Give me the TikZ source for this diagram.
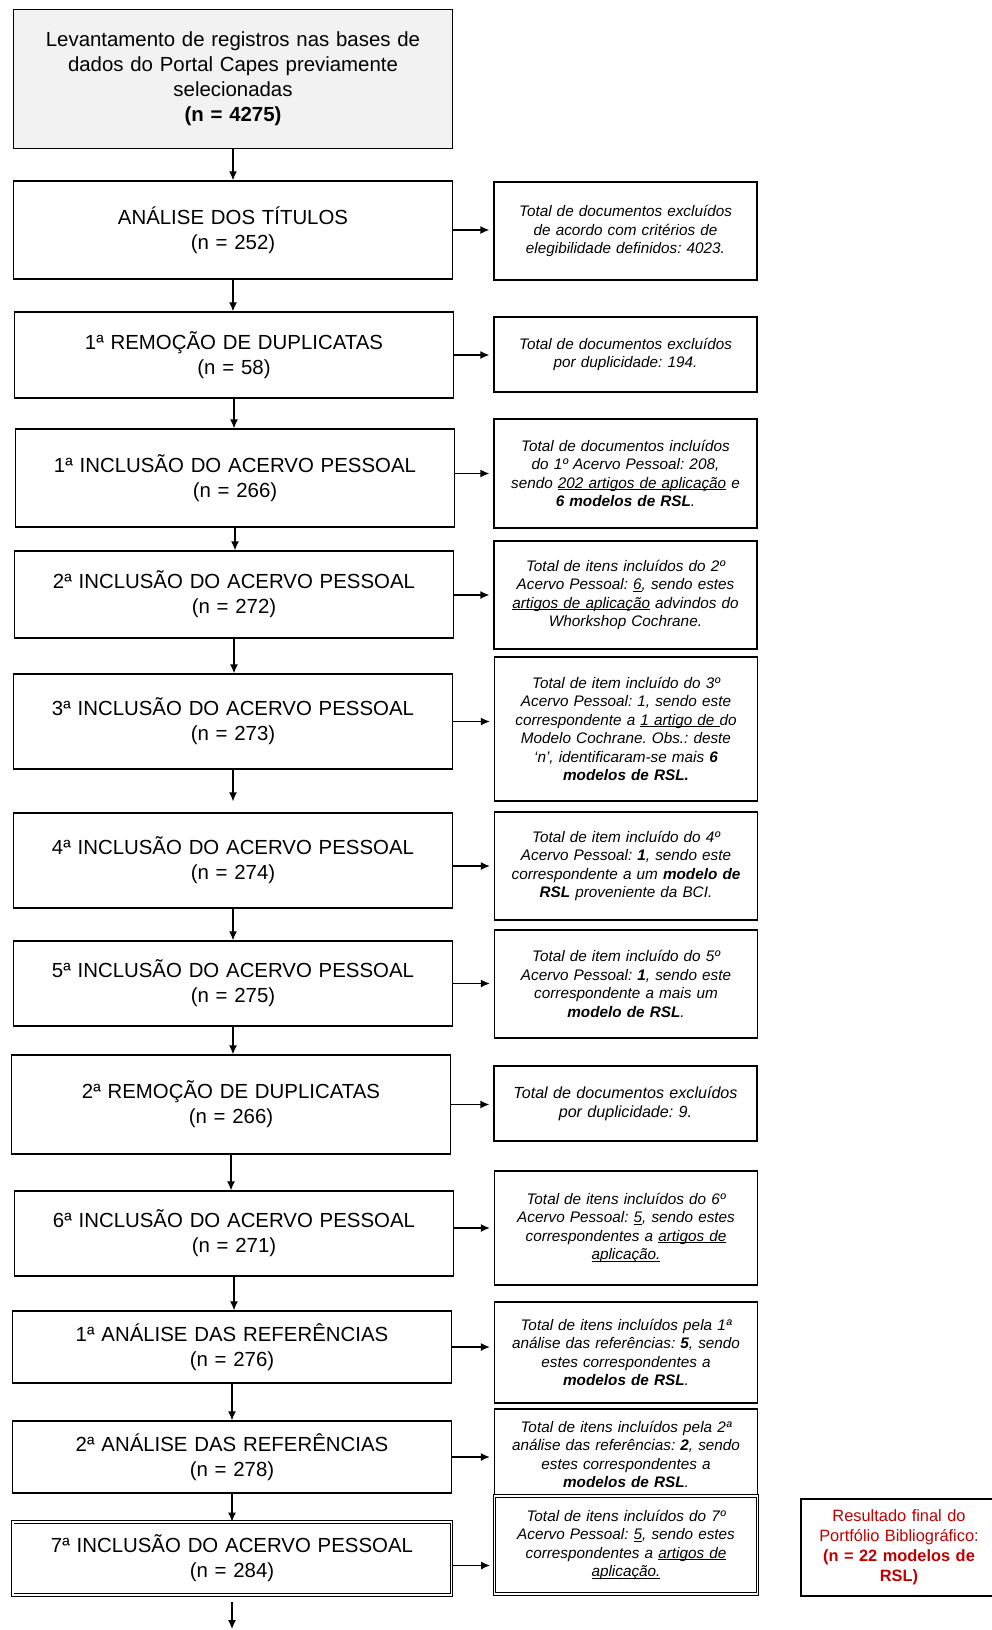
\documentclass[tikz,border=0pt]{standalone}
\usepackage{fontspec}
\setmainfont{Liberation Sans}
\usepackage{tikz}
\usepackage{xcolor}
\definecolor{vermelho}{HTML}{C00000}
\definecolor{cinza}{HTML}{F2F2F2}
\frenchspacing
\newcommand{\grifo}[1]{\leavevmode\setbox0\hbox{#1}\rlap{\rule[-1.6pt]{\wd0}{0.7pt}}\box0\relax}
\usetikzlibrary{arrows.meta}
\tikzset{>={Latex[length=9pt, width=8pt]}}
\tikzset{
  etapa/.style={draw, fill=white, line width=1.3pt, text width=430.5pt, inner xsep=4pt, inner ysep=2pt, align=center, font={\fontsize{20.4}{25}\selectfont}},
  nota/.style={draw, fill=white, line width=1.3pt, text width=255pt, inner xsep=4pt, inner ysep=2pt, align=center, font={\fontsize{15.3}{18.5}\selectfont\itshape}},
  seta/.style={->, line width=1.3pt},
  saida/.style={seta, shorten >=4pt},
}

\begin{document}
\begin{tikzpicture}[x=1pt, y=-1pt]
        \useasboundingbox (0, 0) rectangle (992, 1630);
        \node[etapa, fill=cinza, minimum height=139pt] (levant) at (233, 79) {Levantamento de registros nas bases de\\dados do Portal Capes previamente\\selecionadas\\\textbf{(n = 4275)}};
        \node[etapa, minimum height=98pt] (titulos) at (233, 230) {ANÁLISE DOS TÍTULOS\\(n = 252)};
        \node[etapa, minimum height=86pt] (remocao1) at (234, 355) {1ª REMOÇÃO DE DUPLICATAS\\(n = 58)};
        \node[etapa, minimum height=98pt] (inclusao1) at (235, 478) {1ª INCLUSÃO DO ACERVO PESSOAL\\(n = 266)};
        \node[etapa, minimum height=87pt] (inclusao2) at (234, 594.5) {2ª INCLUSÃO DO ACERVO PESSOAL\\(n = 272)};
        \node[etapa, minimum height=95pt] (inclusao3) at (233, 721.5) {3ª INCLUSÃO DO ACERVO PESSOAL\\(n = 273)};
        \node[etapa, minimum height=95pt] (inclusao4) at (233, 860.5) {4ª INCLUSÃO DO ACERVO PESSOAL\\(n = 274)};
        \node[etapa, minimum height=85pt] (inclusao5) at (233, 983.5) {5ª INCLUSÃO DO ACERVO PESSOAL\\(n = 275)};
        \node[etapa, minimum height=99pt] (remocao2) at (231, 1104.5) {2ª REMOÇÃO DE DUPLICATAS\\(n = 266)};
        \node[etapa, minimum height=85pt] (inclusao6) at (234, 1233.5) {6ª INCLUSÃO DO ACERVO PESSOAL\\(n = 271)};
        \node[etapa, minimum height=72pt] (analise1) at (232, 1347) {1ª ANÁLISE DAS REFERÊNCIAS\\(n = 276)};
        \node[etapa, minimum height=72pt] (analise2) at (232, 1457) {2ª ANÁLISE DAS REFERÊNCIAS\\(n = 278)};
        \node[etapa, double, double distance=1.5pt, line width=0.8pt, minimum height=73pt] (inclusao7) at (232, 1558.5) {7ª INCLUSÃO DO ACERVO PESSOAL\\(n = 284)};

        \node[nota, minimum height=98pt] (n-titulos) at (625.5, 231) {Total de documentos excluídos\\de acordo com critérios de\\elegibilidade definidos: 4023.};
        \node[nota, minimum height=75pt] (n-remocao1) at (625.5, 354.5) {Total de documentos excluídos\\por duplicidade: 194.};
        \node[nota, minimum height=109pt] (n-inclusao1) at (625.5, 473.5) {Total de documentos incluídos\\do 1º Acervo Pessoal: 208,\\sendo \grifo{202 artigos de aplicação} e\\\textbf{6 modelos de RSL}.};
        \node[nota, minimum height=108pt] (n-inclusao2) at (625.5, 595) {Total de itens incluídos do 2º\\Acervo Pessoal: \grifo{6}, sendo estes\\\grifo{artigos de aplicação} advindos do\\Whorkshop Cochrane.};
        \node[nota, minimum height=144pt] (n-inclusao3) at (626, 729) {Total de item incluído do 3º\\Acervo Pessoal: 1, sendo este\\correspondente a \grifo{1 artigo de }do\\Modelo Cochrane. Obs.: deste\\‘n’, identificaram-se mais \textbf{6}\\\textbf{modelos de RSL.}};
        \node[nota, minimum height=108pt] (n-inclusao4) at (626, 866) {Total de item incluído do 4º\\Acervo Pessoal: \textbf{1}, sendo este\\correspondente a um \textbf{modelo de}\\\textbf{RSL} proveniente da BCI.};
        \node[nota, minimum height=108pt] (n-inclusao5) at (626, 984) {Total de item incluído do 5º\\Acervo Pessoal: \textbf{1}, sendo este\\correspondente a mais um\\\textbf{modelo de RSL}.};
        \node[nota, minimum height=75pt, font={\fontsize{16.1}{19.5}\selectfont\itshape}] (n-remocao2) at (625.5, 1103.5) {Total de documentos excluídos\\por duplicidade: 9.};
        \node[nota, minimum height=114pt] (n-inclusao6) at (626, 1228) {Total de itens incluídos do 6º\\Acervo Pessoal: \grifo{5}, sendo estes\\correspondentes a \grifo{artigos de}\\\grifo{aplicação.}};
        \node[nota, minimum height=101pt] (n-analise1) at (626, 1352.5) {Total de itens incluídos pela 1ª\\análise das referências: \textbf{5}, sendo\\estes correspondentes a\\\textbf{modelos de RSL}.};
        \node[nota, minimum height=91pt] (n-analise2) at (626, 1454.5) {Total de itens incluídos pela 2ª\\análise das referências: \textbf{2}, sendo\\estes correspondentes a\\\textbf{modelos de RSL}.};
        \node[nota, double, double distance=1.5pt, line width=0.8pt, minimum height=98pt] (n-inclusao7) at (626, 1545) {Total de itens incluídos do 7º\\Acervo Pessoal: \grifo{5}, sendo estes\\correspondentes a \grifo{artigos de}\\\grifo{aplicação.}};
        \node[draw, line width=1.3pt, text width=188pt, inner xsep=4pt, minimum height=97pt, align=center, text=vermelho, font={\fontsize{16.4}{20}\selectfont}] (resultado) at (899, 1547.5) {Resultado final do\\Portfólio Bibliográfico:\\\textbf{(n = 22 modelos de}\\\textbf{RSL)}};

        \draw[seta] (levant.south) -- (levant.south |- titulos.north);
        \draw[seta] (titulos.south) -- (titulos.south |- remocao1.north);
        \draw[seta] (remocao1.south) -- (remocao1.south |- inclusao1.north);
        \draw[seta] (inclusao1.south) -- (inclusao1.south |- inclusao2.north);
        \draw[seta] (inclusao2.south) -- (inclusao2.south |- inclusao3.north);
        \draw[seta, shorten >=11pt] (inclusao3.south) -- (inclusao3.south |- inclusao4.north);
        \draw[seta] (inclusao4.south) -- (inclusao4.south |- inclusao5.north);
        \draw[seta] (inclusao5.south) -- (inclusao5.south |- remocao2.north);
        \draw[seta] (remocao2.south) -- (remocao2.south |- inclusao6.north);
        \draw[seta] (inclusao6.south) -- (inclusao6.south |- analise1.north);
        \draw[seta] (analise1.south) -- (analise1.south |- analise2.north);
        \draw[seta] (analise2.south) -- (analise2.south |- inclusao7.north);
        \coordinate (fim) at (232, 1629);
        \draw[seta] (inclusao7.south) ++(0, 7) -- (fim);

        \draw[saida] (titulos.east) -- (titulos.east -| n-titulos.west);
        \draw[saida] (remocao1.east) -- (remocao1.east -| n-remocao1.west);
        \draw[saida] (n-inclusao1.west -| inclusao1.east) -- (n-inclusao1.west);
        \draw[saida] (n-inclusao2.west -| inclusao2.east) -- (n-inclusao2.west);
        \draw[saida] (inclusao3.east) -- (inclusao3.east -| n-inclusao3.west);
        \draw[saida] (n-inclusao4.west -| inclusao4.east) -- (n-inclusao4.west);
        \draw[saida] (inclusao5.east) -- (inclusao5.east -| n-inclusao5.west);
        \draw[saida] (remocao2.east) -- (remocao2.east -| n-remocao2.west);
        \draw[saida] (n-inclusao6.west -| inclusao6.east) -- (n-inclusao6.west);
        \draw[saida] (analise1.east) -- (analise1.east -| n-analise1.west);
        \draw[saida] (analise2.east) -- (analise2.east -| n-analise2.west);
        \draw[saida] ([yshift=-7pt]inclusao7.east) -- ([yshift=-7pt]inclusao7.east -| n-inclusao7.west);
\end{tikzpicture}
\end{document}
